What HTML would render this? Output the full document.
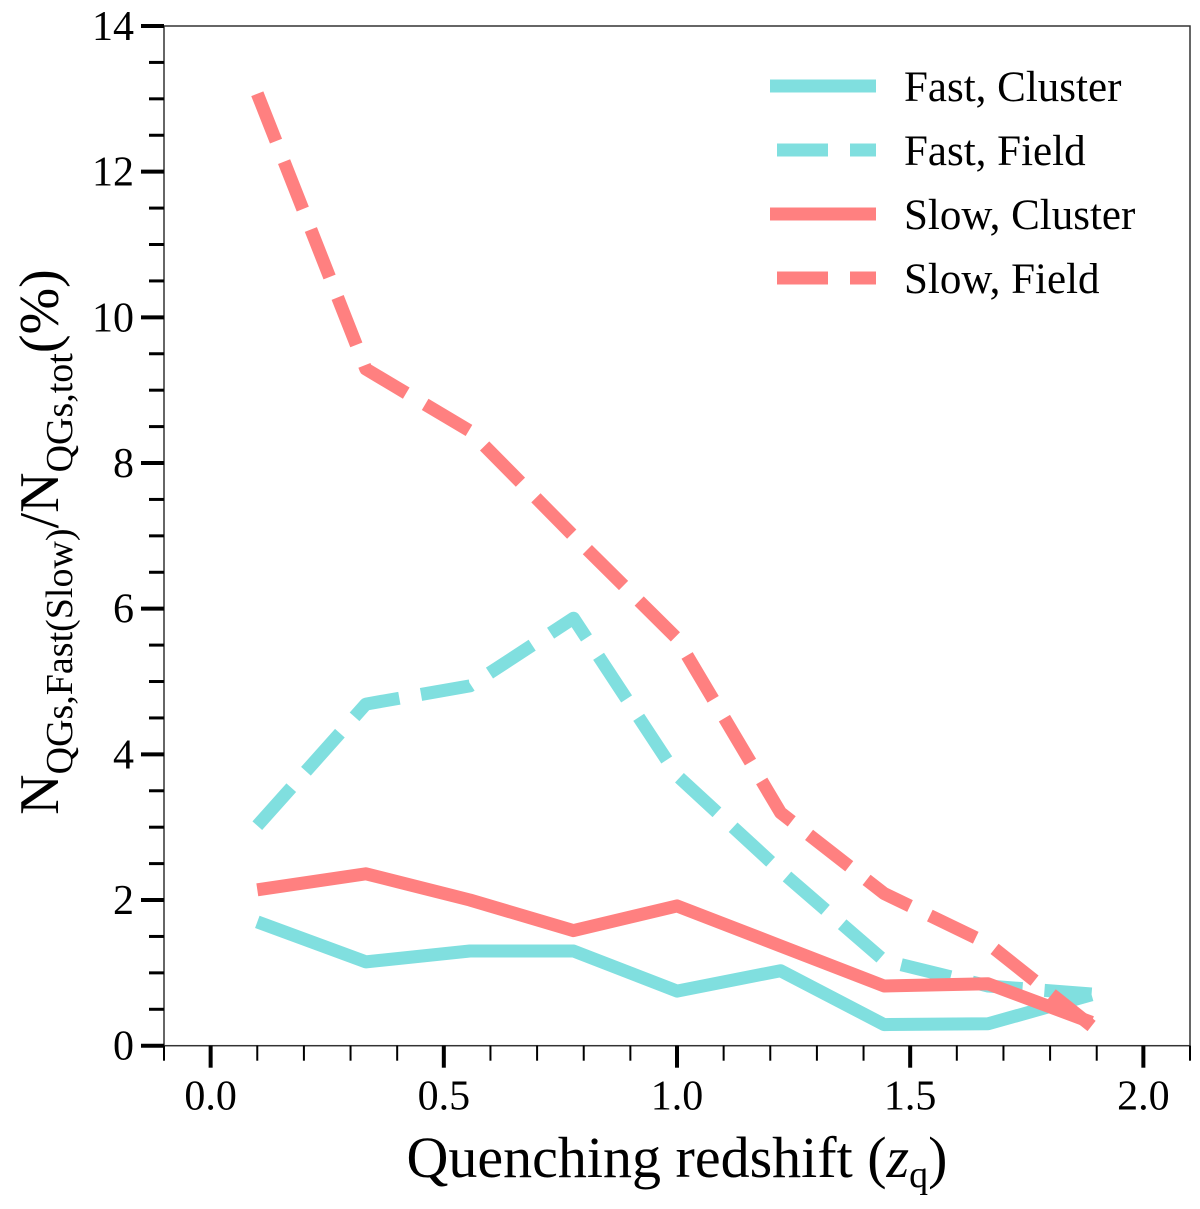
<!DOCTYPE html>
<html><head><meta charset="utf-8"><style>
body{margin:0;background:#fff}
text{font-family:"Liberation Serif","DejaVu Serif",serif;fill:#000}
</style></head><body>
<svg id="chart" width="1200" height="1204" xmlns="http://www.w3.org/2000/svg">
<g id="marks"></g>
<g id="axes"></g>
<g id="legend"></g>
</svg>
<script>
const xs = [0.1, 0.333, 0.556, 0.778, 1.0, 1.222, 1.444, 1.667, 1.889];
const fastCluster = [1.70, 1.15, 1.30, 1.30, 0.75, 1.03, 0.29, 0.30, 0.70];
const fastField = [3.02, 4.69, 4.94, 5.87, 3.71, 2.40, 1.17, 0.82, 0.71];
const slowCluster = [2.14, 2.36, 2.00, 1.58, 1.92, 1.37, 0.82, 0.85, 0.32];
const slowField = [13.07, 9.29, 8.44, 7.00, 5.59, 3.20, 2.09, 1.40, 0.27];
const xTicks = ["0.0","0.5","1.0","1.5","2.0"];
const yTicks = ["0","2","4","6","8","10","12","14"];

const NS="http://www.w3.org/2000/svg";
const L=164,R=1190,T=26,B=1045.7;
const xMin=-0.1,xMax=2.1,yMin=0,yMax=14;
const X=v=>L+(v-xMin)/(xMax-xMin)*(R-L);
const Y=v=>B-(v-yMin)/(yMax-yMin)*(B-T);
const CY="#80dfdf",RD="#ff8080";
function mk(tag,attrs,parent){const e=document.createElementNS(NS,tag);for(const k in attrs)e.setAttribute(k,attrs[k]);parent.appendChild(e);return e;}
const marks=document.getElementById('marks'),axes=document.getElementById('axes'),leg=document.getElementById('legend');
const series=[[fastCluster,CY,false,'line-fast-cluster'],[fastField,CY,true,'line-fast-field'],[slowCluster,RD,false,'line-slow-cluster'],[slowField,RD,true,'line-slow-field']];
series.forEach(s=>{
  const d=s[0].map((v,i)=>(i?'L':'M')+X(xs[i]).toFixed(1)+','+Y(v).toFixed(1)).join(' ');
  const p=mk('path',{d:d,fill:'none',stroke:s[1],'stroke-width':13,'stroke-linejoin':'round'},marks);
  if(s[2])p.setAttribute('stroke-dasharray','51 22');
  
  
});
const fr=mk('rect',{x:L,y:T,width:R-L,height:B-T,fill:'none',stroke:'#333','stroke-width':1.5},axes);


for(let k=0;k<=28;k++){const v=k*0.5;const maj=k%4==0;
  mk('line',{x1:L-(maj?23:15),x2:L,y1:Y(v),y2:Y(v),stroke:'#000','stroke-width':maj?4:3},axes);}
yTicks.forEach(t=>{const e=mk('text',{x:L-30,y:Y(+t)+14,'font-size':42,'text-anchor':'end'},axes);e.textContent=t;
  
  });
for(let k=-1;k<=21;k++){const v=k*0.1;const maj=k%5==0;
  mk('line',{x1:X(v),x2:X(v),y1:B,y2:B+(maj?22:15),stroke:'#000','stroke-width':maj?4:2},axes);}
xTicks.forEach(t=>{const e=mk('text',{x:X(+t),y:B+64,'font-size':42,'text-anchor':'middle'},axes);e.textContent=t;
  
  });
const xt=mk('text',{x:677,y:1177,'font-size':58,'text-anchor':'middle'},axes);
xt.innerHTML='Quenching redshift (<tspan font-style="italic">z</tspan><tspan font-size="38" dy="10">q</tspan><tspan dy="-10">)</tspan>';


const yt=mk('text',{x:0,y:0,'font-size':56,'text-anchor':'middle',transform:'translate(58,542) rotate(-90)'},axes);
yt.innerHTML='N<tspan font-size="38" dy="14">QGs,Fast(Slow)</tspan><tspan dy="-14">/N</tspan><tspan font-size="38" dy="14">QGs,tot</tspan><tspan dy="-14">(%)</tspan>';


const labels=['Fast, Cluster','Fast, Field','Slow, Cluster','Slow, Field'];
series.forEach((s,i)=>{const y=86+i*64;
  const g=mk('g',{},leg);
  
  
  const l=mk('line',{x1:770,x2:876,y1:y,y2:y,stroke:s[1],'stroke-width':13},g);
  if(s[2]){l.setAttribute('stroke-dasharray','51 22');l.setAttribute('stroke-dashoffset','66');}
  const t=mk('text',{x:904,y:y+15,'font-size':43},g);t.textContent=labels[i];});
</script>
</body></html>
